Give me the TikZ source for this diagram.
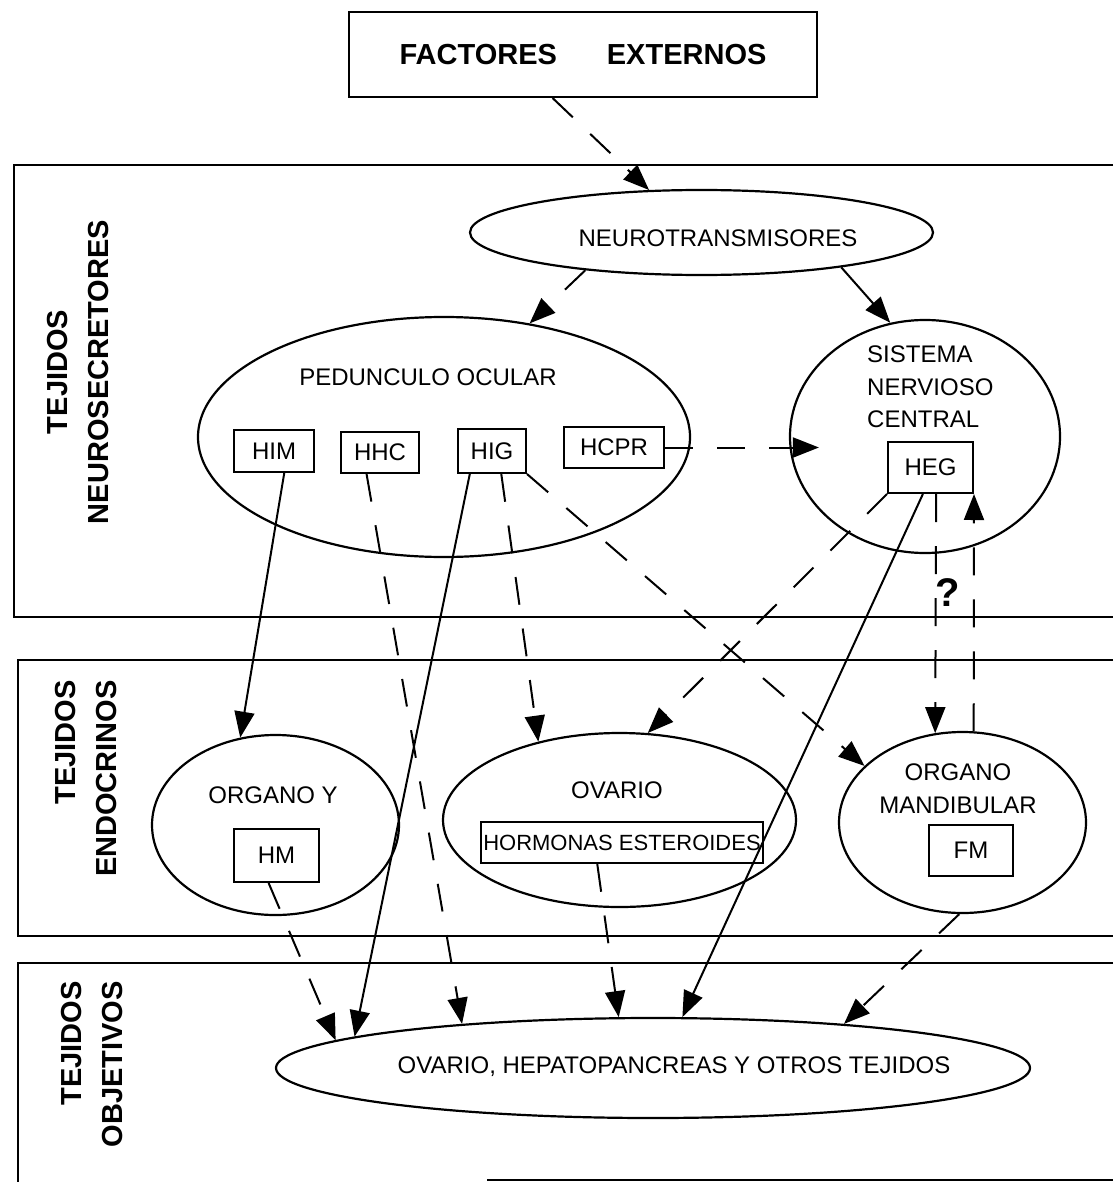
\documentclass[tikz,border=0pt]{standalone}
\usepackage{fontspec}
\setmainfont{Liberation Sans}
\usetikzlibrary{shapes.geometric,arrows.meta,calc}
\begin{document}
\begin{tikzpicture}[x=1pt,y=-1pt,
  ell/.style={draw, ellipse, line width=2.2pt, inner sep=0pt},
  hbox/.style={draw, rectangle, line width=2pt, inner sep=0pt, font=\fontsize{24}{28}\selectfont},
  lbl/.style={inner sep=0pt, font=\fontsize{24}{33}\selectfont},
  side/.style={inner sep=0pt, rotate=90, align=center, font=\fontsize{29}{41}\selectfont\bfseries},
  conn/.style={line width=2pt, -{Triangle[length=26pt,width=20pt]}},
  dsh/.style={conn, dash pattern=on 28pt off 24pt},
  band/.style={line width=2.5pt}
]
\useasboundingbox (0,0) rectangle (1113,1182);
\fill[white] (0,0) rectangle (1113,1182);

% bands
\draw[band] (1113,165) -- (14,165) -- (14,617) -- (1113,617);
\draw[band] (1113,660) -- (18,660) -- (18,936) -- (1113,936);
\draw[band] (1113,963) -- (18,963) -- (18,1182);
\draw[band] (487,1180) -- (1113,1180);

\node[side] (s1) at (78,372) {TEJIDOS\\NEUROSECRETORES};
\node[side, align=right, anchor=east] (s2) at (86,680) {TEJIDOS\\ENDOCRINOS};
\node[side, align=right, anchor=east] (s3) at (92,981) {TEJIDOS\\OBJETIVOS};

% top
\node[draw, line width=2pt, minimum width=468pt, minimum height=85pt, inner sep=0pt,
      font=\fontsize{29}{34}\selectfont\bfseries] (fact) at (583,54.5) {FACTORES\hspace{50pt}EXTERNOS};
\node[ell, minimum width=463pt, minimum height=85pt] (neuro) at (701.5,232.5) {};
\node[lbl] (neurot) at (718,238) {NEUROTRANSMISORES};

% neurosecretory
\node[ell, minimum width=492pt, minimum height=240pt] (ped) at (444,437) {};
\node[lbl] (pedt) at (428,377) {PEDUNCULO OCULAR};
\node[hbox, minimum width=80pt, minimum height=42pt] (him) at (274,451) {HIM};
\node[hbox, minimum width=78pt, minimum height=41pt] (hhc) at (380,452.5) {HHC};
\node[hbox, minimum width=68pt, minimum height=44pt] (hig) at (492,451) {HIG};
\node[hbox, minimum width=100pt, minimum height=41pt] (hcpr) at (614,447.5) {HCPR};

\node[ell, minimum width=270pt, minimum height=233pt] (snc) at (925,436.5) {};
\node[lbl, align=left, anchor=north west, font=\fontsize{24}{32.5}\selectfont] (snct) at (867,346) {SISTEMA\\NERVIOSO\\CENTRAL};
\node[hbox, minimum width=85pt, minimum height=51pt] (heg) at (930.5,467.5) {HEG};

% endocrine
\node[ell, minimum width=247pt, minimum height=180pt] (orgy) at (275.5,825) {};
\node[lbl] (orgyt) at (273,795) {ORGANO Y};
\node[hbox, minimum width=85pt, minimum height=53pt] (hm) at (276.5,855.5) {HM};

\node[ell, minimum width=353pt, minimum height=174pt] (ova) at (619.5,820) {};
\node[lbl] (ovat) at (617,790) {OVARIO};
\node[hbox, minimum width=282pt, minimum height=41pt, font=\fontsize{22}{26}\selectfont] (horm) at (622,842.5) {HORMONAS ESTEROIDES};

\node[ell, minimum width=247pt, minimum height=181pt] (om) at (962.5,822.5) {};
\node[lbl, align=center] (omt) at (958,789) {ORGANO\\MANDIBULAR};
\node[hbox, minimum width=84pt, minimum height=51pt] (fm) at (971,850.5) {FM};

% target
\node[ell, minimum width=754pt, minimum height=100pt] (bot) at (653,1068) {};
\node[lbl] (bott) at (674,1067) {OVARIO, HEPATOPANCREAS Y OTROS TEJIDOS};

\node[inner sep=0pt, font=\fontsize{40}{44}\selectfont\bfseries] (q) at (948,593) {?};

% connectors
\draw[dsh] (fact.-125) -- (neuro.141);
\draw[dsh] (neuro.198) -- (ped.53);
\draw[conn] (neuro.-14) -- (snc.107);
\draw[dsh, shorten >=-30pt] (hcpr.east) -- (hcpr.east -| snc.west);
\draw[conn] (him.-65) -- (orgy.112);
\draw[dsh] (hhc.-122) -- (bot.167.5);
\draw[conn] (hig.-134) -- (bot.174);
\draw[dsh] (hig.-68) -- (ova.136.5);
\draw[dsh] (hig.south east) -- (om.150);
\draw[dsh] (heg.south west) -- (ova.72);
\draw[conn] (heg.-106) -- (bot.60.5);
\draw[dsh] (heg.-78) -- (om.107);
\draw[dsh] (om.83) -- (heg.south east);
\draw[dsh] (hm.-106) -- (bot.175);
\draw[dsh] (horm.-139.5) -- (bot.124);
\draw[dsh] (om.-92) -- (bot.13);
\end{tikzpicture}
\end{document}
